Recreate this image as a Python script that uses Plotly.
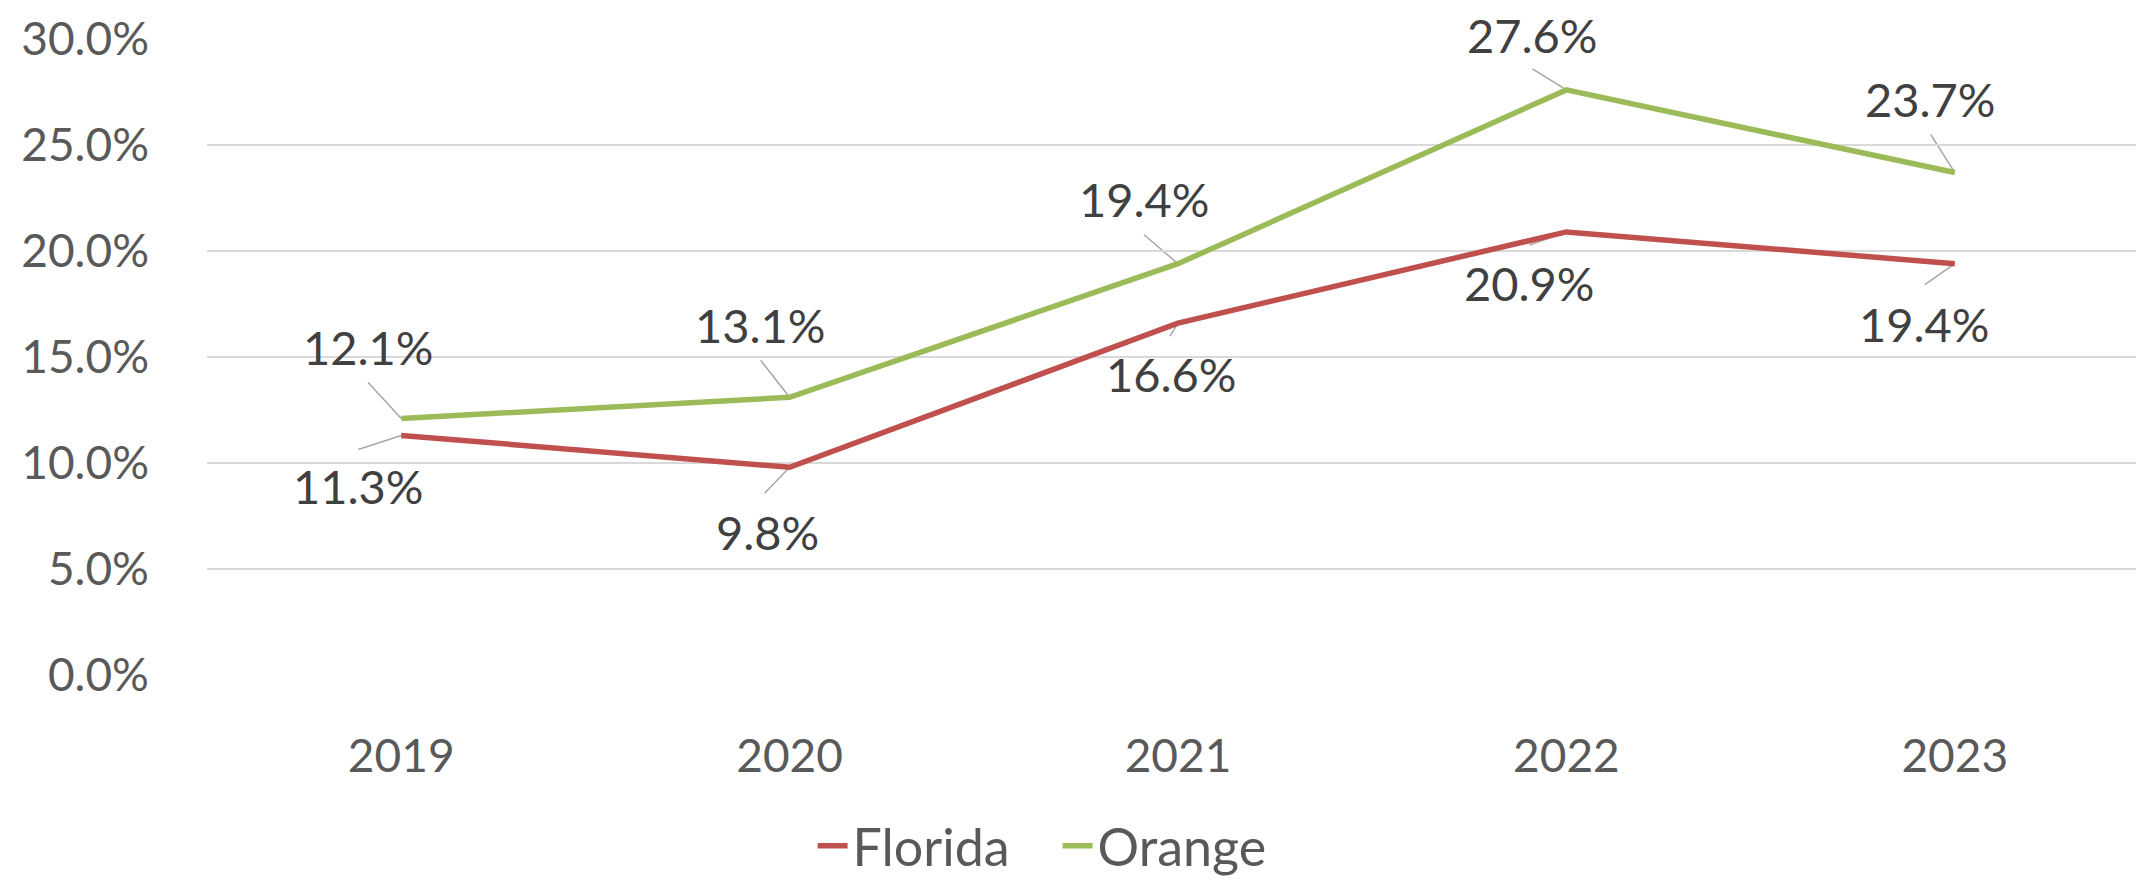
import plotly.graph_objects as go

# ---- data ----
years = ["2019", "2020", "2021", "2022", "2023"]
florida = [0.113, 0.098, 0.166, 0.209, 0.194]
orange = [0.121, 0.131, 0.194, 0.276, 0.237]
y_ticks = [0.0, 0.05, 0.10, 0.15, 0.20, 0.25, 0.30]

# ---- styling ----
RED = "#c0504d"
GREEN = "#9bbb59"
AXIS_TXT = "#595959"
LBL_TXT = "#404040"
LEADER = "#a6a6a6"
FONT = "Lato"

# label offsets (pixels, screen: +dx right, +dy down) relative to each point
orange_text_off = [(-33, -70), (-29, -71), (-34, -64), (-34, -54), (-24, -73)]
orange_lead_off = [(-33, -36), (-29, -37), (-34, -29), (-34, -21), (-24, -38)]
florida_text_off = [(-43, 52), (-22, 66), (-7, 52), (-37, 52), (-30, 61)]
florida_lead_off = [(-43, 14), (-25, 26), (-8, 13), (-37, 13), (-30, 21)]

fig = go.Figure()
fig.add_trace(go.Scatter(x=years, y=florida, name="Florida", mode="lines",
                         line=dict(color=RED, width=5.5)))
fig.add_trace(go.Scatter(x=years, y=orange, name="Orange", mode="lines",
                         line=dict(color=GREEN, width=5.5)))

annotations = []
shapes = []
for vals, toff, loff in [(orange, orange_text_off, orange_lead_off),
                         (florida, florida_text_off, florida_lead_off)]:
    for i, (v, (tdx, tdy), (ldx, ldy)) in enumerate(zip(vals, toff, loff)):
        annotations.append(dict(x=i, y=v, xref="x", yref="y", text=f"{v*100:.1f}%",
                                showarrow=False, xshift=tdx, yshift=-tdy + 1,
                                borderpad=0,
                                font=dict(family=FONT, size=47, color=LBL_TXT)))
        shapes.append(dict(type="line", xref="x", yref="y",
                           xsizemode="pixel", ysizemode="pixel",
                           xanchor=i, yanchor=v,
                           x0=ldx, y0=-ldy, x1=0, y1=0,
                           line=dict(color=LEADER, width=1.5), layer="below"))

fig.update_layout(
    width=2144, height=881,
    margin=dict(l=199, r=3, t=31, b=192),
    paper_bgcolor="white", plot_bgcolor="white",
    font=dict(family=FONT, color=AXIS_TXT),
    showlegend=True,
    legend=dict(orientation="h", x=0.438, xanchor="center", y=-0.205, yanchor="top",
                font=dict(family=FONT, size=52, color=AXIS_TXT),
                entrywidth=200, traceorder="normal"),
    annotations=annotations,
    shapes=shapes,
)
fig.update_xaxes(type="category", range=[-0.5, 4.5], showgrid=False, showline=False,
                 zeroline=False, ticks="", ticklabelstandoff=50,
                 tickfont=dict(family=FONT, size=46, color=AXIS_TXT))
fig.update_yaxes(range=[0, 0.30], tickvals=y_ticks, tickformat=".1%",
                 showgrid=True, gridcolor="#d9d9d9", gridwidth=1.5,
                 zeroline=False, showline=False, ticks="", ticklabelstandoff=57,
                 tickfont=dict(family=FONT, size=46, color=AXIS_TXT))

fig.write_html("out.html")
